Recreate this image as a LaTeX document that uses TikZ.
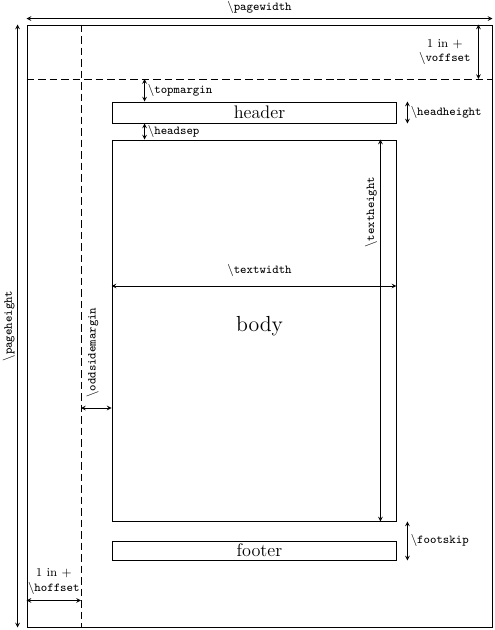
\documentclass[tikz,border=0pt]{standalone}
\usepackage{amsmath}
\usepackage{amssymb}
\usepackage{tikz}
\usetikzlibrary{positioning}

\newcommand{\lyname}[1]{$\backslash$\texttt{#1}}

\begin{document}
\begin{tikzpicture}[x=0.66pt,y=-0.66pt,>=stealth]
          \tikzstyle{every node}+=[inner sep=0pt]
          \tikzstyle{box}=[draw=black, semithick, minimum width=187.44pt]
          \tikzstyle{dimline}=[<->, black]
          \tikzstyle{guide}=[black, semithick, dash pattern=on 5pt off 2.6pt]
          \tikzstyle{lbl}=[font=\footnotesize]
          \useasboundingbox (0,0) rectangle (495,630);
          % page and the three boxes
          \node [box, minimum width=306.9pt, minimum height=397.32pt] (page) at (259.5,326) {};
          \node [box, minimum height=13.86pt] (header) at (254,112.5) {};
          \node [box, minimum height=251.46pt] (body) at (254,330.5) {};
          \node [box, minimum height=12.54pt] (footer) at (254,550.5) {};
          \node [font=\large] (headertext) at (page.center |- header) {header};
          \node [font=\Large] (bodytext) at (page.center) {body};
          \node [font=\large] (footertext) at (page.center |- footer) {footer};
          % dashed lines at 1in + offset
          \coordinate (corner) at (81,79);
          \draw [guide] (page.west |- corner) -- (page.east |- corner);
          \draw [guide] (page.north -| corner) -- (page.south -| corner);
          % page size
          \draw [dimline] ([yshift=3.96pt]page.north west) -- node [lbl, above=3pt] (pagewidthlbl) {\lyname{pagewidth}} ([yshift=3.96pt]page.north east);
          \draw [dimline] ([xshift=-5.94pt]page.north west) -- node [lbl, rotate=90, anchor=south, inner sep=1.5pt] (pageheightlbl) {\lyname{pageheight}} ([xshift=-5.94pt]page.south west);
          % offsets
          \coordinate (vtop) at ([xshift=-9.24pt]page.north east);
          \draw [dimline] (vtop) -- node [lbl, left=5pt, align=center] (voffsetlbl) {1 in +\\ \lyname{voffset}} (vtop |- corner);
          \coordinate (hleft) at ([yshift=17.82pt]page.south west);
          \draw [dimline] (hleft) -- node [lbl, above=4pt, align=center] (hoffsetlbl) {1 in +\\ \lyname{hoffset}} (hleft -| corner);
          % header
          \coordinate (tmbot) at ([xshift=21.78pt]header.north west);
          \draw [dimline] (tmbot |- corner) -- node [lbl, right=2pt] (topmarginlbl) {\lyname{topmargin}} (tmbot);
          \draw [dimline] ([xshift=7.26pt]header.north east) -- node [lbl, right=2pt] (headheightlbl) {\lyname{headheight}} ([xshift=7.26pt]header.south east);
          \draw [dimline] ([xshift=21.78pt]header.south west) -- node [lbl, right=2pt] (headseplbl) {\lyname{headsep}} ([xshift=21.78pt]body.north west);
          % body
          \draw [dimline] ([xshift=-10.56pt]body.north east) -- node [lbl, pos=0.19, rotate=90, anchor=south, inner sep=2pt] (textheightlbl) {\lyname{textheight}} ([xshift=-10.56pt]body.south east);
          \coordinate (twl) at ([yshift=29.37pt]body.west);
          \draw [dimline] (twl) -- ([yshift=29.37pt]body.east);
          \node [lbl, above=6pt] (textwidthlbl) at (page.center |- twl) {\lyname{textwidth}};
          \coordinate (osm) at ([yshift=-51.15pt]body.west);
          \draw [dimline] (osm -| corner) -- (osm);
          \node [lbl, rotate=90, anchor=west] (oddsidemarginlbl) at ([xshift=-12.54pt,yshift=6.6pt]osm) {\lyname{oddsidemargin}};
          % footer
          \draw [dimline] ([xshift=7.26pt]body.south east) -- node [lbl, right=2pt] (footskiplbl) {\lyname{footskip}} ([xshift=7.26pt]footer.south east);
\end{tikzpicture}
\end{document}
